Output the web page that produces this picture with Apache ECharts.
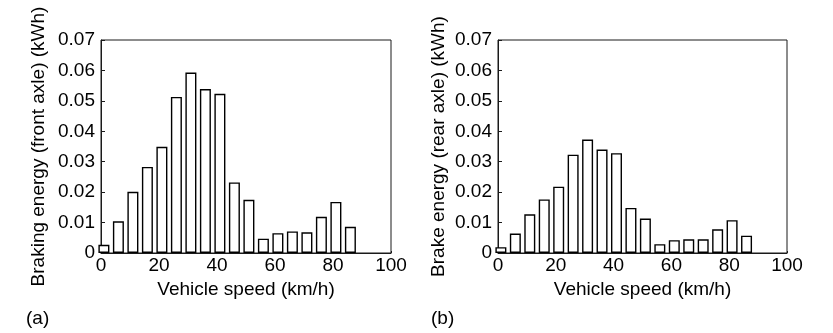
<!DOCTYPE html>
<html>
<head>
<meta charset="utf-8">
<script src="https://cdn.jsdelivr.net/npm/echarts@6/dist/echarts.min.js"></script>
<style>
html,body{margin:0;padding:0;background:#fff;}
#c{width:833px;height:333px;}
</style>
</head>
<body>
<div id="c"></div>
<script>
// Bin centres (km/h)
var speeds = [1, 6, 11, 16, 21, 26, 31, 36, 41, 46, 51, 56, 61, 66, 71, 76, 81, 86];
// (a) Braking energy, front axle (kWh)
var frontEnergy = [0.0027, 0.0104, 0.0201, 0.0283, 0.0349, 0.0513, 0.0593, 0.0539, 0.0523, 0.0232, 0.0175, 0.0047, 0.0065, 0.0071, 0.0068, 0.0119, 0.0168, 0.0086];
// (b) Brake energy, rear axle (kWh)
var rearEnergy = [0.0019, 0.0064, 0.0127, 0.0176, 0.0218, 0.0323, 0.0373, 0.0340, 0.0328, 0.0148, 0.0113, 0.0029, 0.0042, 0.0045, 0.0045, 0.0078, 0.0108, 0.0057];
var xTicks = [0, 20, 40, 60, 80, 100];
var yTicks = [0, 0.01, 0.02, 0.03, 0.04, 0.05, 0.06, 0.07];
var panelLabels = ['(a)', '(b)'];
var yNames = ['Braking energy (front axle) (kWh)', 'Brake energy (rear axle) (kWh)'];
var xName = 'Vehicle speed (km/h)';

var FONT = '"Liberation Sans", Arial, Helvetica, sans-serif';
var FS = 19;
var TXT = '#000';
var LINE = '#1a1a1a';

function pairs(xs, ys) { return xs.map(function (x, i) { return [x, ys[i]]; }); }

function xAxisFor(gi) {
  return {
    type: 'value', gridIndex: gi, min: xTicks[0], max: xTicks[xTicks.length - 1], interval: 20,
    name: xName, nameLocation: 'middle', nameGap: 27,
    nameTextStyle: { fontFamily: FONT, fontSize: FS, color: TXT },
    axisLine: { show: true, lineStyle: { color: LINE, width: 1 } },
    axisTick: { show: true, inside: true, length: 2, lineStyle: { color: LINE } },
    axisLabel: { fontFamily: FONT, fontSize: FS, color: TXT, margin: 3 },
    splitLine: { show: false }
  };
}
function yAxisFor(gi, gap) {
  return {
    type: 'value', gridIndex: gi, min: yTicks[0], max: yTicks[yTicks.length - 1], interval: 0.01,
    name: yNames[gi], nameLocation: 'middle', nameGap: gap, nameRotate: 90,
    nameTextStyle: { fontFamily: FONT, fontSize: FS, color: TXT },
    axisLine: { show: true, lineStyle: { color: LINE, width: 1 } },
    axisTick: { show: true, inside: true, length: 4, lineStyle: { color: LINE } },
    axisLabel: { fontFamily: FONT, fontSize: FS, color: TXT, margin: 6,
      formatter: function (v) { return v === 0 ? '0' : v.toFixed(2); } },
    splitLine: { show: false }
  };
}
function barSeries(gi, data) {
  return {
    type: 'bar', xAxisIndex: gi, yAxisIndex: gi, data: pairs(speeds, data),
    barWidth: 11, clip: true, silent: true,
    itemStyle: { color: '#fff', borderColor: '#000', borderWidth: 1.4 }
  };
}

var chart = echarts.init(document.getElementById('c'), null, { renderer: 'canvas' });
chart.setOption({
  animation: false,
  backgroundColor: '#fff',
  title: [
    { text: panelLabels[0], left: 26, top: 309, textStyle: { fontFamily: FONT, fontSize: FS, fontWeight: 'normal', color: TXT }, padding: 0 },
    { text: panelLabels[1], left: 431, top: 309, textStyle: { fontFamily: FONT, fontSize: FS, fontWeight: 'normal', color: TXT }, padding: 0 }
  ],
  grid: [
    { left: 101, right: 442, top: 40, bottom: 80, show: true, borderColor: LINE, borderWidth: 1, backgroundColor: 'transparent' },
    { left: 498, right: 46, top: 40, bottom: 80, show: true, borderColor: LINE, borderWidth: 1, backgroundColor: 'transparent' }
  ],
  xAxis: [xAxisFor(0), xAxisFor(1)],
  yAxis: [yAxisFor(0, 53), yAxisFor(1, 50)],
  series: [barSeries(0, frontEnergy), barSeries(1, rearEnergy)]
});
</script>
</body>
</html>
